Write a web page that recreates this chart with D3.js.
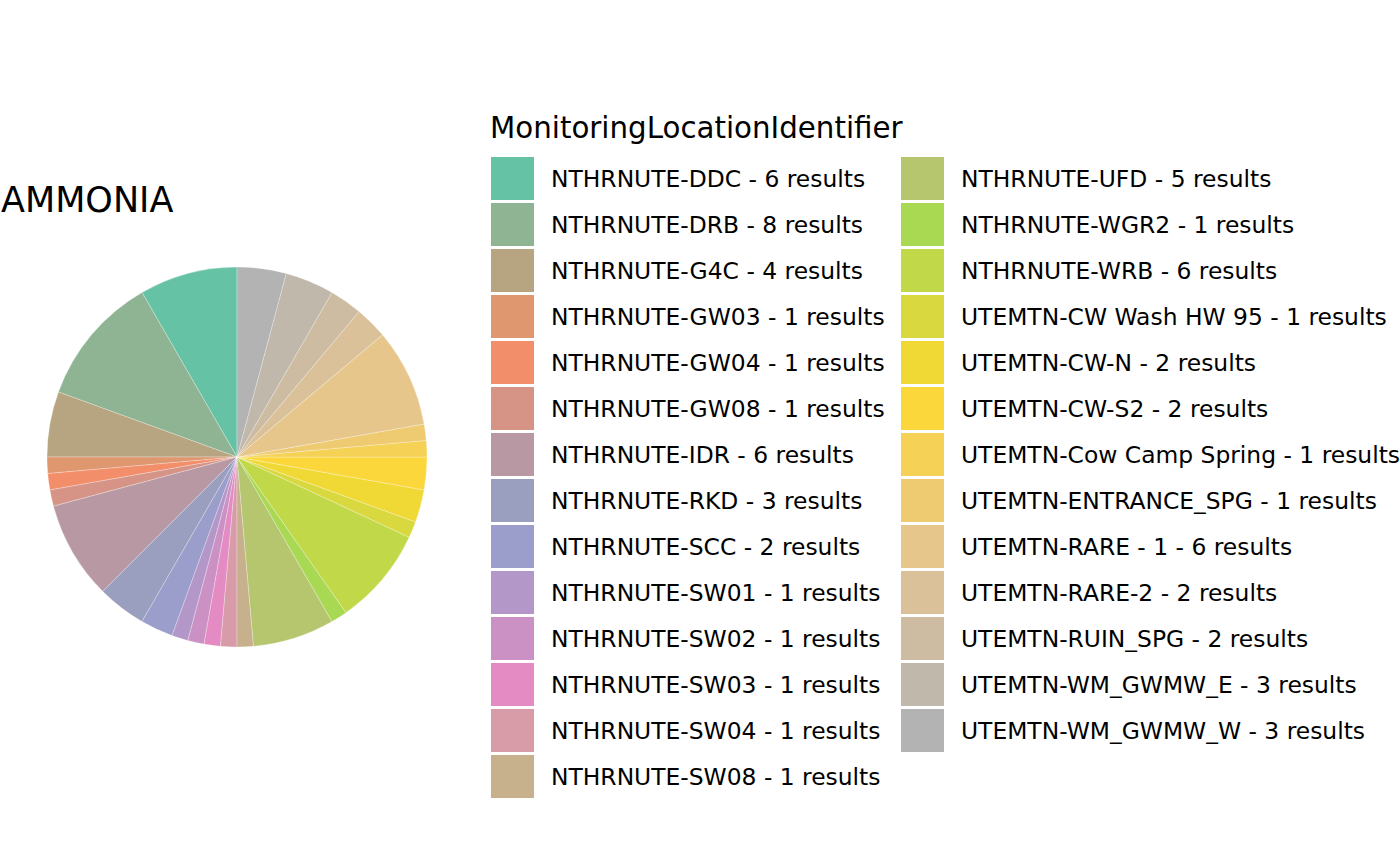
<!DOCTYPE html>
<html>
<head>
<meta charset="utf-8">
<script src="https://cdn.jsdelivr.net/npm/d3@7"></script>
<style>
html,body{margin:0;padding:0;background:#fff;}
svg{display:block;font-family:"DejaVu Sans",sans-serif;}
</style>
</head>
<body>
<svg id="chart" width="1400" height="866"></svg>
<script>
const chartTitle = "AMMONIA";
const legendTitle = "MonitoringLocationIdentifier";
const locations = [
  "NTHRNUTE-DDC","NTHRNUTE-DRB","NTHRNUTE-G4C","NTHRNUTE-GW03","NTHRNUTE-GW04",
  "NTHRNUTE-GW08","NTHRNUTE-IDR","NTHRNUTE-RKD","NTHRNUTE-SCC","NTHRNUTE-SW01",
  "NTHRNUTE-SW02","NTHRNUTE-SW03","NTHRNUTE-SW04","NTHRNUTE-SW08","NTHRNUTE-UFD",
  "NTHRNUTE-WGR2","NTHRNUTE-WRB","UTEMTN-CW Wash HW 95","UTEMTN-CW-N","UTEMTN-CW-S2",
  "UTEMTN-Cow Camp Spring","UTEMTN-ENTRANCE_SPG","UTEMTN-RARE - 1","UTEMTN-RARE-2",
  "UTEMTN-RUIN_SPG","UTEMTN-WM_GWMW_E","UTEMTN-WM_GWMW_W"
];
const results = [6,8,4,1,1,1,6,3,2,1,1,1,1,1,5,1,6,1,2,2,1,1,6,2,2,3,3];
const basePalette = ["#66C2A5","#FC8D62","#8DA0CB","#E78AC3","#A6D854","#FFD92F","#E5C494","#B3B3B3"];

const data = locations.map((loc, i) => ({loc, n: results[i], label: `${loc} - ${results[i]} results`}));

const ramp = d3.piecewise(d3.interpolateRgb, basePalette);
const color = d3.scaleOrdinal()
  .domain(locations)
  .range(locations.map((d, i) => ramp(i / (locations.length - 1))));

const svg = d3.select("#chart");

// Title
svg.append("text")
  .attr("x", 1).attr("y", 212)
  .attr("font-size", 35)
  .attr("fill", "#000")
  .text(chartTitle);

// Pie
const cx = 237, cy = 457, R = 190;
const pie = d3.pie().value(d => d.n).sort(null).startAngle(0).endAngle(-2 * Math.PI);
const arc = d3.arc().innerRadius(0).outerRadius(R);
const g = svg.append("g").attr("transform", `translate(${cx},${cy})`);
g.selectAll("path").data(pie(data)).join("path")
  .attr("d", arc)
  .attr("fill", d => color(d.data.loc))
  .attr("stroke", "#fff")
  .attr("stroke-opacity", 0.45)
  .attr("stroke-width", 0.6);

// Legend
const fs = 23.4;
svg.append("text")
  .attr("x", 490).attr("y", 138)
  .attr("font-size", 29.3)
  .attr("fill", "#000")
  .text(legendTitle);

const perCol = 14;
const keyX = [491, 901], textX = [551, 961];
const rowY = d3.scaleLinear().domain([0, 1]).range([157, 203]);
const lg = svg.append("g");
const items = lg.selectAll("g.item").data(data).join("g").attr("class", "item")
  .attr("transform", (d, i) => {
    const c = Math.floor(i / perCol), r = i % perCol;
    return `translate(${keyX[c]},${rowY(r)})`;
  });
items.append("rect")
  .attr("x", 0).attr("y", 0)
  .attr("width", 43).attr("height", 43)
  .attr("fill", d => color(d.loc));
items.append("text")
  .attr("x", (d, i) => textX[Math.floor(i / perCol)] - keyX[Math.floor(i / perCol)])
  .attr("y", 21.5 + 0.365 * fs)
  .attr("font-size", fs)
  .attr("fill", "#000")
  .text(d => d.label);
</script>
</body>
</html>
